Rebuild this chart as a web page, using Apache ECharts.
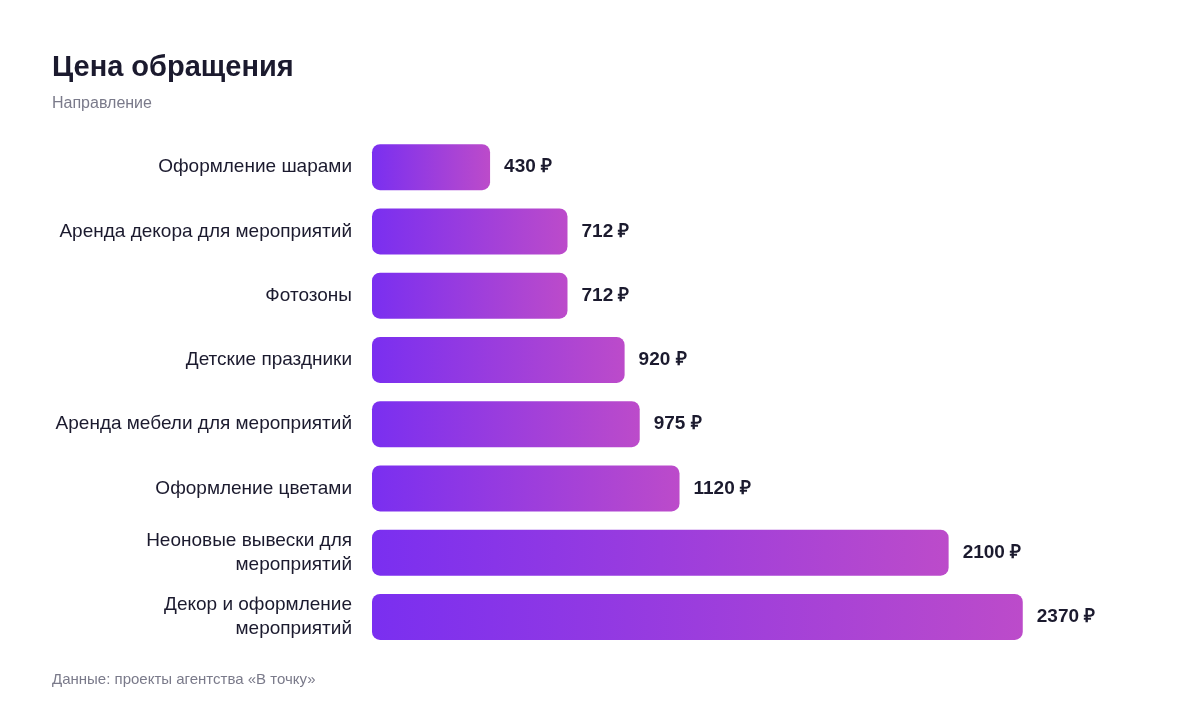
<!DOCTYPE html>
<html>
<head>
<meta charset="utf-8">
<script src="https://cdn.jsdelivr.net/npm/echarts@6/dist/echarts.min.js"></script>
<style>
html, body { margin: 0; padding: 0; background: #fff; }
#chart { width: 1200px; height: 712px; }
</style>
</head>
<body>
<div id="chart"></div>
<script>
// направления (сверху вниз)
var categories = [
	'Оформление шарами',
	'Аренда декора для мероприятий',
	'Фотозоны',
	'Детские праздники',
	'Аренда мебели для мероприятий',
	'Оформление цветами',
	'Неоновые вывески для\nмероприятий',
	'Декор и оформление\nмероприятий'
];
var prices = [430, 712, 712, 920, 975, 1120, 2100, 2370];

var byId = function(id) {
	return document.getElementById(id);
};

var chart = echarts.init(byId('chart'));
var font = '"Liberation Sans", Arial, sans-serif';

var option = {
	backgroundColor: '#ffffff',
	animation: false,
	title: [{
		text: 'Цена обращения',
		left: 47,
		top: 48,
		textStyle: { fontFamily: font, fontSize: 29, fontWeight: 'bold', color: '#1b1a2e' }
	}, {
		text: 'Направление',
		left: 47,
		top: 91,
		textStyle: { fontFamily: font, fontSize: 16, fontWeight: 'normal', color: '#7a7a8a' }
	}, {
		text: 'Данные: проекты агентства «В точку»',
		left: 47,
		top: 667,
		textStyle: { fontFamily: font, fontSize: 15, fontWeight: 'normal', color: '#7a7a8a' }
	}],
	grid: {
		left: 372,
		right: 169,
		top: 135,
		bottom: 63
	},
	xAxis: {
		type: 'value',
		min: 0,
		max: 2400,
		show: false
	},
	yAxis: {
		type: 'category',
		inverse: true,
		data: categories,
		axisLine: { show: false },
		axisTick: { show: false },
		splitLine: { show: false },
		axisLabel: {
			margin: 20,
			fontFamily: font,
			fontSize: 19,
			lineHeight: 24,
			color: '#1b1a2e',
			align: 'right'
		}
	},
	series: [{
		type: 'bar',
		data: prices,
		barWidth: 46,
		itemStyle: {
			borderRadius: 8,
			color: new echarts.graphic.LinearGradient(0, 0, 1, 0, [
				{ offset: 0, color: '#7a2ff0' },
				{ offset: 1, color: '#bc4bca' }
			])
		},
		label: {
			show: true,
			position: 'right',
			distance: 14,
			fontFamily: font,
			fontSize: 19,
			fontWeight: 'bold',
			color: '#1b1a2e',
			formatter: function(p) {
				return p.value + ' ₽';
			}
		}
	}]
};
chart.setOption(option);
</script>
</body>
</html>
